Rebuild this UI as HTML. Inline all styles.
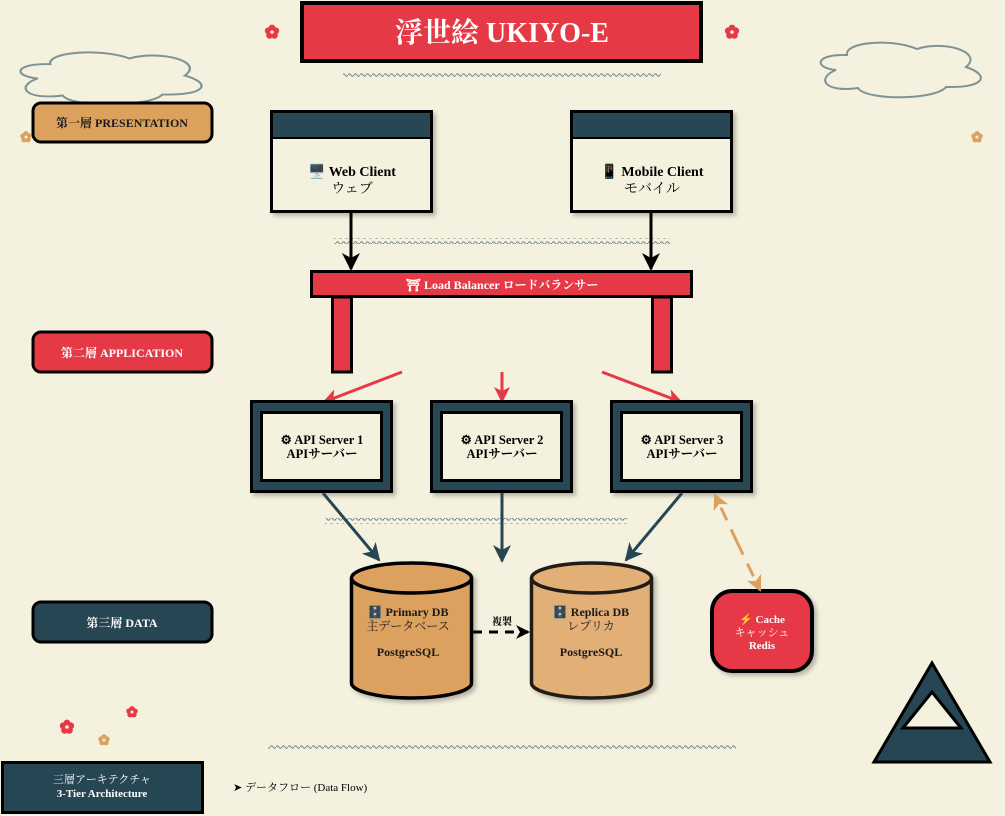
<!DOCTYPE html>
<html><head><meta charset="utf-8"><style>
html,body{margin:0;padding:0;background:#f4f1df;}
svg{display:block;}
text{font-family:"Liberation Serif","Noto Serif CJK SC","Noto Sans CJK JP",serif;}
</style></head><body>
<svg width="1005" height="816" viewBox="0 0 1005 816" xmlns="http://www.w3.org/2000/svg">
<defs>
<pattern id="wv" width="6" height="6" patternUnits="userSpaceOnUse">
<path d="M0,3 Q1.5,0.5 3,3 T6,3" fill="none" stroke="#6e8285" stroke-width="1"/>
</pattern>
<filter id="sh" x="-10%" y="-10%" width="130%" height="130%"><feDropShadow dx="3" dy="3" stdDeviation="2" flood-color="#000" flood-opacity="0.25"/></filter>
<marker id="abk" markerWidth="18" markerHeight="18" refX="16" refY="9" orient="auto" markerUnits="userSpaceOnUse"><path d="M0,0 L18,9 L0,18 L5,9Z" fill="#000"/></marker>
<marker id="ard" markerWidth="16" markerHeight="16" refX="14" refY="8" orient="auto" markerUnits="userSpaceOnUse"><path d="M0,0 L16,8 L0,16 L4,8Z" fill="#e63946"/></marker>
<marker id="adk" markerWidth="18" markerHeight="18" refX="16" refY="9" orient="auto" markerUnits="userSpaceOnUse"><path d="M0,0 L18,9 L0,18 L5,9Z" fill="#264653"/></marker>
<marker id="aor" markerWidth="16" markerHeight="16" refX="14" refY="8" orient="auto" markerUnits="userSpaceOnUse"><path d="M0,0 L16,8 L0,16 L4,8Z" fill="#dda15e"/></marker>
<marker id="ab2" markerWidth="14" markerHeight="14" refX="12" refY="7" orient="auto" markerUnits="userSpaceOnUse"><path d="M0,0 L14,7 L0,14 L4,7Z" fill="#000"/></marker>
<g id="fl"><circle cx="0" cy="-4" r="3.4"/><circle cx="3.8" cy="-1.2" r="3.4"/><circle cx="2.4" cy="3.3" r="3.4"/><circle cx="-2.4" cy="3.3" r="3.4"/><circle cx="-3.8" cy="-1.2" r="3.4"/><circle cx="0" cy="0" r="1.8" fill="#f4f1df"/></g>
<path id="cl" d="M33,17 C30,4 78,0 103,11 C130,2 170,14 152,29 C176,37 172,50 132,49 C122,62 52,63 44,50 C10,55 2,40 22,32 C0,30 0,16 33,17 Z" fill="none" stroke="#7e9396" stroke-width="2"/>
</defs>

<use href="#cl" transform="translate(814,38)"/>
<use href="#cl" transform="translate(13,48) scale(1.13,0.95)"/>

<use href="#fl" x="272" y="32" fill="#e63946"/>
<use href="#fl" x="732" y="32" fill="#e63946"/>
<use href="#fl" transform="translate(977,137) scale(0.8)" fill="#dda15e"/>
<use href="#fl" transform="translate(26,137) scale(0.8)" fill="#dda15e"/>
<use href="#fl" x="67" y="727" fill="#e63946"/>
<use href="#fl" transform="translate(132,712) scale(0.8)" fill="#e63946"/>
<use href="#fl" transform="translate(104,740) scale(0.8)" fill="#dda15e"/>

<rect x="302" y="3" width="399" height="58" fill="#e63946" stroke="#000" stroke-width="4"/>
<text x="502" y="42" text-anchor="middle" font-size="28" font-weight="bold" fill="#fff">浮世絵 UKIYO-E</text>

<rect x="343" y="73" width="318" height="6" fill="url(#wv)"/>
<rect x="334" y="238" width="336" height="6" fill="url(#wv)"/>
<rect x="325" y="518" width="302" height="6" fill="url(#wv)"/>
<rect x="268" y="743" width="468" height="6" fill="url(#wv)"/>

<rect x="33" y="103" width="179" height="39" rx="8" fill="#dda15e" stroke="#000" stroke-width="3"/>
<text x="122" y="127" text-anchor="middle" font-size="12" font-weight="bold" fill="#1a1a1a">第一層 PRESENTATION</text>
<rect x="33" y="332" width="179" height="40" rx="8" fill="#e63946" stroke="#000" stroke-width="3"/>
<text x="122" y="357" text-anchor="middle" font-size="12" font-weight="bold" fill="#fff">第二層 APPLICATION</text>
<rect x="33" y="602" width="179" height="40" rx="8" fill="#264653" stroke="#000" stroke-width="3"/>
<text x="122" y="627" text-anchor="middle" font-size="12" font-weight="bold" fill="#fff">第三層 DATA</text>

<g filter="url(#sh)">
<rect x="271.5" y="111.5" width="160" height="100" fill="#f4f1df" stroke="#000" stroke-width="3"/>
<rect x="273" y="113" width="157" height="24" fill="#264653"/>
<line x1="273" y1="138" x2="430" y2="138" stroke="#000" stroke-width="2"/>
<rect x="571.5" y="111.5" width="160" height="100" fill="#f4f1df" stroke="#000" stroke-width="3"/>
<rect x="573" y="113" width="157" height="24" fill="#264653"/>
<line x1="573" y1="138" x2="730" y2="138" stroke="#000" stroke-width="2"/>
</g>
<text x="352" y="176" text-anchor="middle" font-size="14" font-weight="bold" fill="#000">🖥️ Web Client</text>
<text x="352" y="193" text-anchor="middle" font-size="14" fill="#000">ウェブ</text>
<text x="652" y="176" text-anchor="middle" font-size="14" font-weight="bold" fill="#000">📱 Mobile Client</text>
<text x="652" y="193" text-anchor="middle" font-size="14" fill="#000">モバイル</text>

<line x1="351" y1="213" x2="351" y2="269" stroke="#000" stroke-width="3" marker-end="url(#abk)"/>
<line x1="651" y1="213" x2="651" y2="269" stroke="#000" stroke-width="3" marker-end="url(#abk)"/>

<rect x="332.5" y="297" width="19" height="75" fill="#e63946" stroke="#000" stroke-width="3"/>
<rect x="652.5" y="297" width="19" height="75" fill="#e63946" stroke="#000" stroke-width="3"/>
<rect x="311.5" y="271.5" width="380" height="25" fill="#e63946" stroke="#000" stroke-width="3"/>
<text x="502" y="289" text-anchor="middle" font-size="12" font-weight="bold" fill="#fff">⛩ Load Balancer ロードバランサー</text>

<line x1="402" y1="372" x2="324" y2="402" stroke="#e63946" stroke-width="3" marker-end="url(#ard)"/>
<line x1="502" y1="372" x2="502" y2="401" stroke="#e63946" stroke-width="3" marker-end="url(#ard)"/>
<line x1="602" y1="372" x2="681" y2="402" stroke="#e63946" stroke-width="3" marker-end="url(#ard)"/>

<g filter="url(#sh)">
<rect x="251.5" y="401.5" width="140" height="90" fill="#264653" stroke="#000" stroke-width="3"/>
<rect x="261.5" y="412.5" width="120" height="68" fill="#f4f1df" stroke="#000" stroke-width="3"/>
<rect x="431.5" y="401.5" width="140" height="90" fill="#264653" stroke="#000" stroke-width="3"/>
<rect x="441.5" y="412.5" width="120" height="68" fill="#f4f1df" stroke="#000" stroke-width="3"/>
<rect x="611.5" y="401.5" width="140" height="90" fill="#264653" stroke="#000" stroke-width="3"/>
<rect x="621.5" y="412.5" width="120" height="68" fill="#f4f1df" stroke="#000" stroke-width="3"/>
</g>
<g font-size="12.5" font-weight="bold" fill="#000" text-anchor="middle">
<text x="322" y="444">⚙ API Server 1</text><text x="322" y="458">APIサーバー</text>
<text x="502" y="444">⚙ API Server 2</text><text x="502" y="458">APIサーバー</text>
<text x="682" y="444">⚙ API Server 3</text><text x="682" y="458">APIサーバー</text>
</g>

<line x1="323" y1="493" x2="379" y2="560" stroke="#264653" stroke-width="3" marker-end="url(#adk)"/>
<line x1="502" y1="493" x2="502" y2="561" stroke="#264653" stroke-width="3" marker-end="url(#adk)"/>
<line x1="682" y1="493" x2="626" y2="560" stroke="#264653" stroke-width="3" marker-end="url(#adk)"/>

<g filter="url(#sh)">
<path d="M351.5,578 L351.5,683 A60,15 0 0 0 471.5,683 L471.5,578" fill="#dda15e" stroke="#000" stroke-width="3.5"/>
<ellipse cx="411.5" cy="578" rx="60" ry="15" fill="#dda15e" stroke="#000" stroke-width="3.5"/>
<path d="M531.5,578 L531.5,683 A60,15 0 0 0 651.5,683 L651.5,578" fill="#e2b077" stroke="#231d16" stroke-width="3.5"/>
<ellipse cx="591.5" cy="578" rx="60" ry="15" fill="#e2b077" stroke="#231d16" stroke-width="3.5"/>
</g>
<g font-size="12" font-weight="bold" fill="#1a1a1a" text-anchor="middle">
<text x="408" y="616">🗄️ Primary DB</text>
<text x="408" y="630" font-weight="normal">主データベース</text>
<text x="408" y="656">PostgreSQL</text>
<text x="591" y="616">🗄️ Replica DB</text>
<text x="591" y="630" font-weight="normal">レプリカ</text>
<text x="591" y="656">PostgreSQL</text>
</g>
<line x1="473" y1="632" x2="528" y2="632" stroke="#000" stroke-width="3" stroke-dasharray="9,7" marker-end="url(#ab2)"/>
<text x="502" y="625" text-anchor="middle" font-size="10" font-weight="bold" fill="#000">複製</text>

<rect x="712" y="591" width="100" height="80" rx="20" fill="#e63946" stroke="#000" stroke-width="4" filter="url(#sh)"/>
<g font-size="11" font-weight="bold" fill="#fff" text-anchor="middle">
<text x="762" y="623">⚡ Cache</text>
<text x="762" y="636" font-weight="normal">キャッシュ</text>
<text x="762" y="649">Redis</text>
</g>
<line x1="737" y1="542" x2="715" y2="495" stroke="#dda15e" stroke-width="3" stroke-dasharray="14,10" marker-end="url(#aor)"/>
<line x1="737" y1="542" x2="760" y2="590" stroke="#dda15e" stroke-width="3" stroke-dasharray="14,10" marker-end="url(#aor)"/>

<path d="M932,663 L990,762 L874,762 Z" fill="#264653" stroke="#000" stroke-width="3"/>
<path d="M932,692 L961,728 L903,728 Z" fill="#f4f1df" stroke="#000" stroke-width="3"/>

<rect x="2.5" y="762.5" width="200" height="50" fill="#264653" stroke="#000" stroke-width="3"/>
<text x="102" y="783" text-anchor="middle" font-size="11" fill="#fff">三層アーキテクチャ</text>
<text x="102" y="797" text-anchor="middle" font-size="11" font-weight="bold" fill="#fff">3-Tier Architecture</text>
<text x="233" y="791" font-size="11" fill="#000">➤ データフロー (Data Flow)</text>
</svg>
</body></html>
